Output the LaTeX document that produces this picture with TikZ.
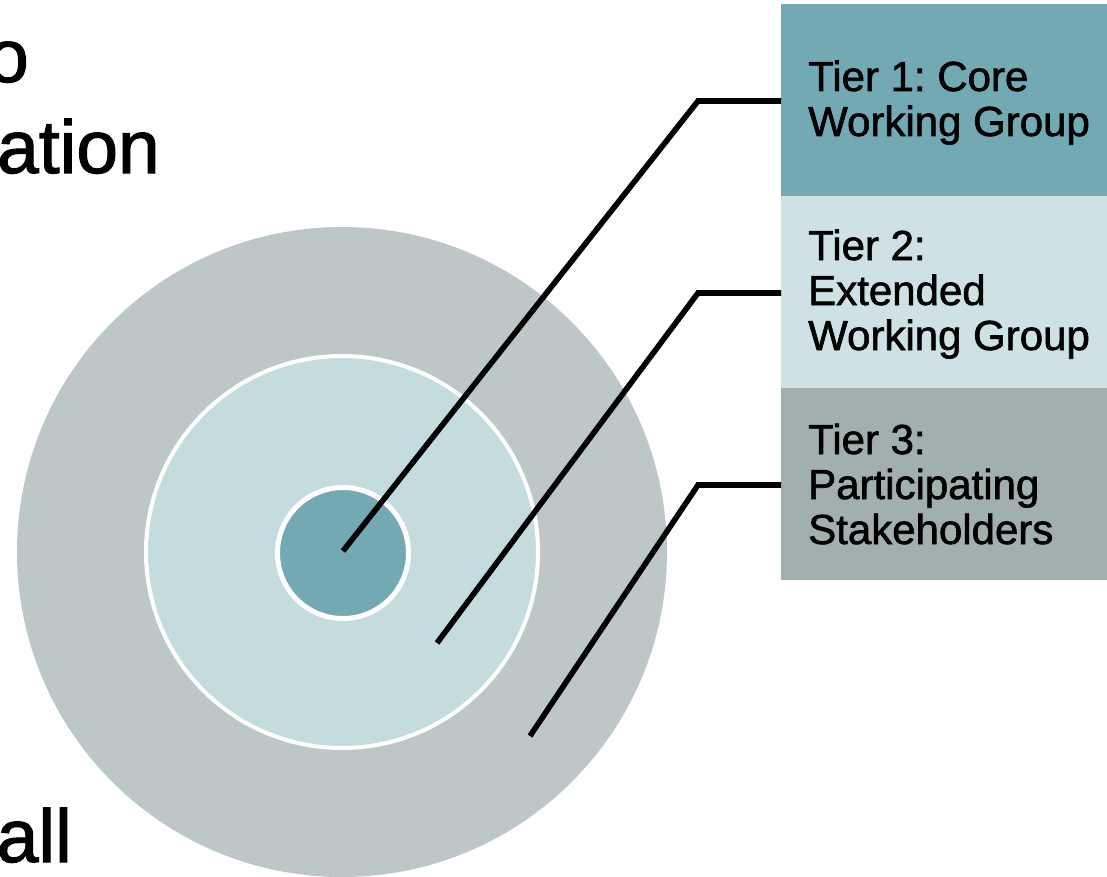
\documentclass[tikz,border=0pt]{standalone}
\usepackage{fontspec}
\setmainfont{Liberation Sans}
\newfontfamily\heavy{Liberation Sans}[FakeBold=1.5]
\definecolor{ringout}{RGB}{190,199,200}
\definecolor{ringmid}{RGB}{197,220,223}
\definecolor{teal}{RGB}{114,169,179}
\definecolor{boxtwo}{RGB}{206,226,230}
\definecolor{boxthree}{RGB}{162,175,175}
\frenchspacing
\begin{document}
\begin{tikzpicture}[x=1pt,y=-1pt,
  tierbox/.style={draw=none,rectangle,minimum width=326pt,minimum height=192pt,anchor=north west,inner sep=0pt},
  tiertext/.style={anchor=base west,align=left,inner sep=0pt,font=\heavy\fontsize{42}{45}\selectfont},
  bigtext/.style={anchor=base east,inner sep=0pt,font=\heavy\fontsize{75}{91}\selectfont},
  leader/.style={line width=5.6pt,black,line join=miter}]
\useasboundingbox (0,0) rectangle (1107,877);
\clip (0,0) rectangle (1107,877);
% circles
\fill[ringout] (342,552) circle[radius=325];
\draw[white,line width=4pt,fill=ringmid] (342,552) circle[radius=196];
\draw[white,line width=5pt,fill=teal] (343,553) circle[radius=65.5];
% boxes
\node[tierbox,fill=teal] (b1) at (781,4) {};
\node[tierbox,fill=boxtwo] (b2) at (781,196) {};
\node[tierbox,fill=boxthree] (b3) at (781,388) {};
\node[tiertext] (t1) at (808,136) {Tier 1: Core\\Working Group};
\node[tiertext] (t2) at (808,350) {Tier 2:\\Extended\\Working Group};
\node[tiertext] (t3) at (808,544) {Tier 3:\\Participating\\Stakeholders};
% leader lines
\coordinate (s1) at (343,551);
\coordinate (k1) at (698,101);
\coordinate (s2) at (437,643);
\coordinate (k2) at (698,293);
\coordinate (s3) at (530,736);
\coordinate (k3) at (698,485);
\draw[leader] (s1) -- (k1) -- (k1 -| b1.west);
\draw[leader] (s2) -- (k2) -- (k2 -| b2.west);
\draw[leader] (s3) -- (k3) -- (k3 -| b3.west);
% clipped left texts
\node[bigtext] (w1) at (29,82) {o};
\node[bigtext] (w2) at (160,173) {ation};
\node[bigtext] (w3) at (72,862) {all};
\end{tikzpicture}
\end{document}
